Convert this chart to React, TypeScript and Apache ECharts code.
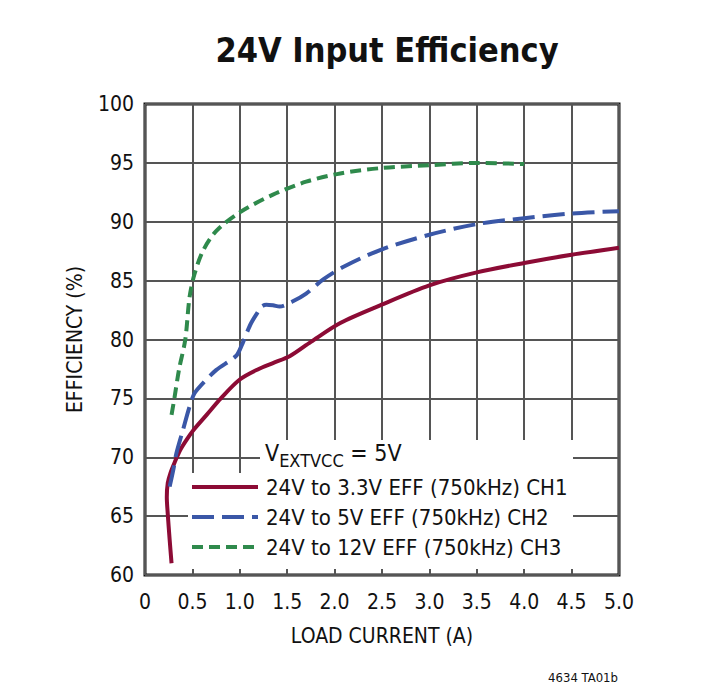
import React, { useEffect, useRef } from "react";
import * as echarts from "echarts";

const FONT = "'Liberation Sans Narrow', 'DejaVu Sans Condensed', 'Roboto Condensed', 'Noto Sans', sans-serif";

const xTicks = [0, 0.5, 1.0, 1.5, 2.0, 2.5, 3.0, 3.5, 4.0, 4.5, 5.0];
const yTicks = [60, 65, 70, 75, 80, 85, 90, 95, 100];

const seriesNames = [
  "24V to 3.3V EFF (750kHz) CH1",
  "24V to 5V EFF (750kHz) CH2",
  "24V to 12V EFF (750kHz) CH3",
];

const redX = [0.28, 0.26, 0.24, 0.23, 0.24, 0.27, 0.32, 0.37, 0.44, 0.51, 0.65, 0.8, 1.0, 1.2, 1.35, 1.53, 1.75, 2.06, 2.48, 3.0, 3.5, 4.0, 4.5, 5.0];
const redY = [61.0, 63.0, 65.2, 66.6, 67.8, 68.7, 69.7, 70.6, 71.5, 72.3, 73.6, 75.0, 76.6, 77.5, 78.0, 78.6, 79.8, 81.4, 82.9, 84.6, 85.7, 86.5, 87.2, 87.8];

const blueX = [0.26, 0.30, 0.33, 0.40, 0.47, 0.52, 0.59, 0.75, 0.96, 1.02, 1.07, 1.12, 1.18, 1.23, 1.28, 1.35, 1.42, 1.55, 1.70, 1.88, 2.1, 2.48, 3.0, 3.5, 4.0, 4.5, 5.0];
const blueY = [67.5, 69.0, 70.3, 72.3, 74.3, 75.4, 76.1, 77.4, 78.6, 79.5, 80.5, 81.4, 82.2, 82.8, 82.95, 82.9, 82.8, 83.2, 83.9, 85.1, 86.2, 87.6, 88.9, 89.8, 90.3, 90.7, 90.9];

const greenX = [0.28, 0.31, 0.36, 0.425, 0.47, 0.52, 0.61, 0.75, 1.0, 1.35, 1.70, 2.06, 2.48, 3.0, 3.5, 4.0];
const greenY = [73.6, 75.0, 77.5, 80.0, 83.6, 85.5, 87.5, 89.2, 90.8, 92.3, 93.4, 94.1, 94.55, 94.8, 95.0, 94.9];

const zip = (xs: number[], ys: number[]) => xs.map((x, i) => [x, ys[i]]);

export default function App() {
  const ref = useRef<HTMLDivElement>(null);
  useEffect(() => {
    document.body.style.margin = "0";
    const chart = echarts.init(ref.current!, null, { renderer: "svg" });
    const lineW = 4;
    chart.setOption({
      animation: false,
      backgroundColor: "#fff",
      title: {
        text: "24V Input Efficiency",
        left: 382,
        top: 28,
        textAlign: "center",
        textStyle: { fontFamily: FONT, fontSize: 34, fontWeight: "bold", color: "#111" },
      },
      grid: {
        left: 145,
        right: 103,
        top: 104,
        bottom: 120,
        show: true,
        borderColor: "#111",
        borderWidth: 3,
        z: 0,
      },
      xAxis: {
        type: "value",
        min: 0,
        max: 5,
        interval: 0.5,
        name: "LOAD CURRENT (A)",
        nameLocation: "middle",
        nameGap: 50,
        nameTextStyle: { fontFamily: FONT, fontSize: 21, color: "#111" },
        axisLine: { show: false },
        axisTick: { show: false },
        splitLine: { show: true, lineStyle: { color: "#555", width: 2 } },
        axisLabel: {
          margin: 16,
          fontFamily: FONT,
          fontSize: 21,
          color: "#111",
          formatter: (v: number) => (v === 0 ? "0" : v.toFixed(1)),
        },
      },
      yAxis: {
        type: "value",
        min: 60,
        max: 100,
        interval: 5,
        name: "EFFICIENCY (%)",
        nameLocation: "middle",
        nameGap: 60,
        nameTextStyle: { fontFamily: FONT, fontSize: 21, color: "#111" },
        axisLine: { show: false },
        axisTick: { show: false },
        splitLine: { show: true, lineStyle: { color: "#555", width: 2 } },
        axisLabel: {
          margin: 11,
          fontFamily: FONT,
          fontSize: 21,
          color: "#111",
          formatter: (v: number) => (yTicks.includes(v) ? String(v) : ""),
        },
      },
      legend: {
        orient: "vertical",
        left: 190,
        top: 476,
        padding: 0,
        itemWidth: 66,
        itemHeight: 14,
        itemGap: 8,
        itemStyle: { opacity: 0 },
        lineStyle: { width: 4 },
        textStyle: { fontFamily: FONT, fontSize: 22, color: "#111", padding: [0, 0, 0, 3] },
        data: seriesNames,
      },
      graphic: [
        {
          type: "rect",
          z: 1,
          silent: true,
          shape: { x: 260, y: 440, width: 313, height: 34 },
          style: { fill: "#fff" },
        },
        {
          type: "rect",
          z: 1,
          silent: true,
          shape: { x: 188, y: 473, width: 385, height: 96 },
          style: { fill: "#fff" },
        },
        {
          type: "text",
          z: 5,
          left: 265,
          top: 441,
          style: {
            text: "{a|V}{b|EXTVCC}{a| = 5V}",
            rich: {
              a: { fontFamily: FONT, fontSize: 23, fill: "#111", verticalAlign: "bottom", lineHeight: 28 },
              b: { fontFamily: FONT, fontSize: 18, fill: "#111", verticalAlign: "bottom", padding: [0, 0, -5, 0], lineHeight: 28 },
            },
          },
        },
        {
          type: "text",
          z: 5,
          right: 104,
          top: 671,
          style: { text: "4634 TA01b", fontFamily: FONT, fontSize: 13, fill: "#111", textAlign: "right" },
        },
      ],
      series: [
        {
          name: seriesNames[0],
          type: "line",
          data: zip(redX, redY),
          smooth: 0.3,
          symbol: "none",
          z: 3,
          lineStyle: { color: "#8c0b35", width: lineW, type: "solid" },
          itemStyle: { color: "#8c0b35" },
        },
        {
          name: seriesNames[1],
          type: "line",
          data: zip(blueX, blueY),
          smooth: 0.3,
          symbol: "none",
          z: 3,
          lineStyle: { color: "#3a57a7", width: lineW, type: [22, 8] },
          itemStyle: { color: "#3a57a7" },
        },
        {
          name: seriesNames[2],
          type: "line",
          data: zip(greenX, greenY),
          smooth: 0.3,
          symbol: "none",
          z: 3,
          lineStyle: { color: "#2f8a4c", width: lineW, type: [11, 6] },
          itemStyle: { color: "#2f8a4c" },
        },
      ],
    });
    return () => chart.dispose();
  }, []);
  return <div ref={ref} style={{ width: 722, height: 695 }} />;
}
